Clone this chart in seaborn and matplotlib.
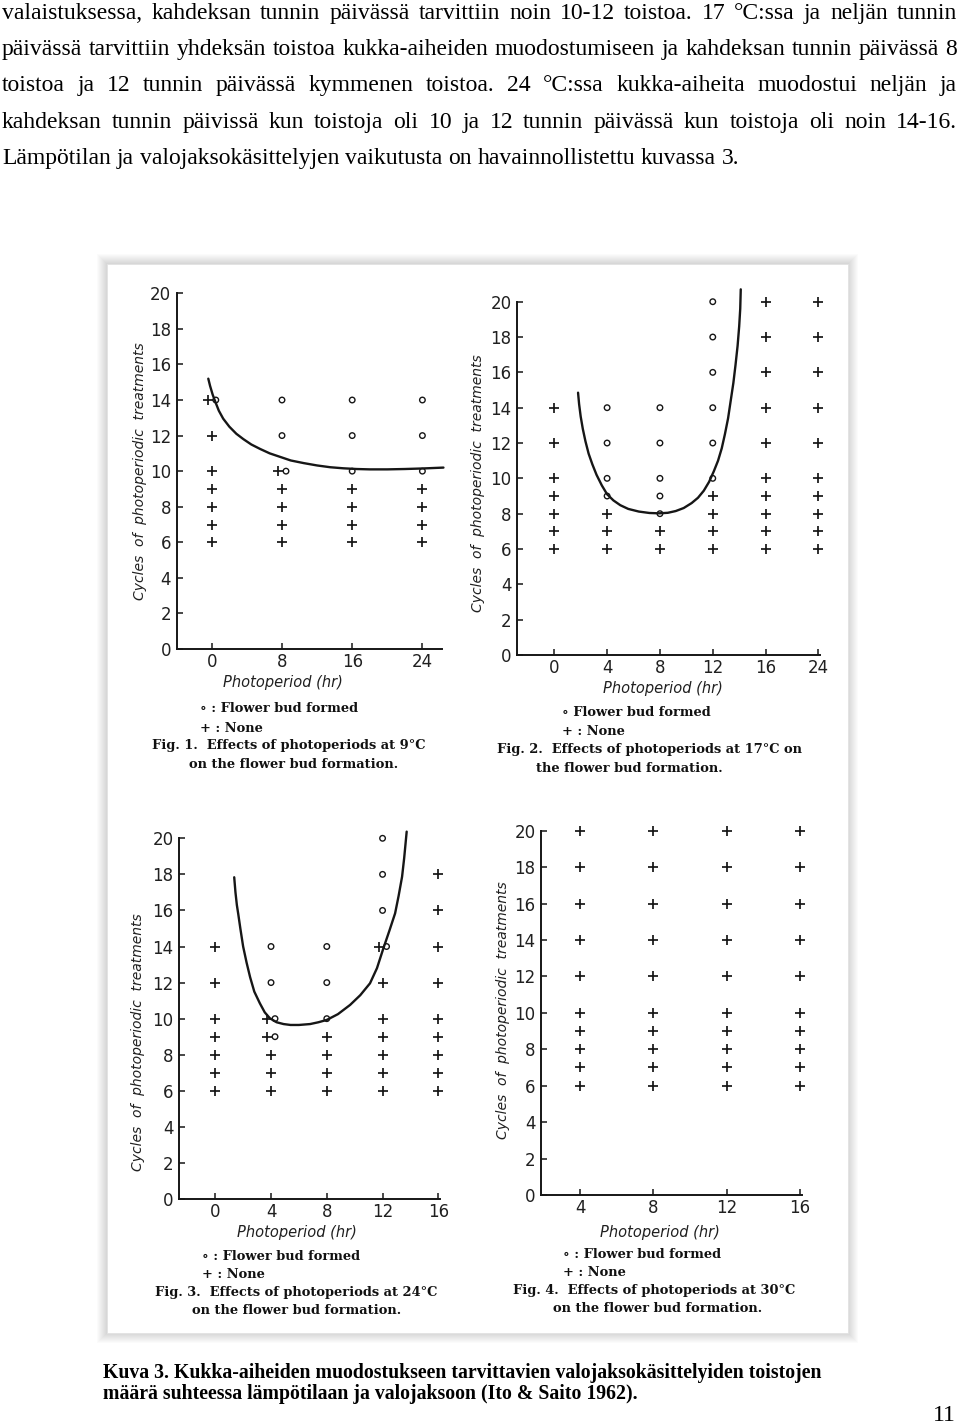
import matplotlib
matplotlib.use("Agg")
import matplotlib.pyplot as plt
import seaborn as sns
import pandas as pd
from matplotlib.patches import Rectangle
from matplotlib.transforms import ScaledTranslation

# ---------------- data ----------------
body_lines = [
    "valaistuksessa, kahdeksan tunnin päivässä tarvittiin noin 10-12 toistoa. 17 °C:ssa ja neljän tunnin",
    "päivässä tarvittiin yhdeksän toistoa kukka-aiheiden muodostumiseen ja kahdeksan tunnin päivässä 8",
    "toistoa ja 12 tunnin päivässä kymmenen toistoa. 24 °C:ssa kukka-aiheita muodostui neljän ja",
    "kahdeksan tunnin päivissä kun toistoja oli 10 ja 12 tunnin päivässä kun toistoja oli noin 14-16.",
    "Lämpötilan ja valojaksokäsittelyjen vaikutusta on havainnollistettu kuvassa 3.",
]
caption_lines = [
    "Kuva 3. Kukka-aiheiden muodostukseen tarvittavien valojaksokäsittelyiden toistojen",
    "määrä suhteessa lämpötilaan ja valojaksoon (Ito & Saito 1962).",
]
page_number = "11"

y_ticks = [0, 2, 4, 6, 8, 10, 12, 14, 16, 18, 20]

# Fig. 1 (9 °C)
fig1_hours = [0, 8, 16, 24]
fig1_none = {0: [6, 7, 8, 9, 10, 12, 14], 8: [6, 7, 8, 9, 10], 16: [6, 7, 8, 9], 24: [6, 7, 8, 9]}
fig1_bud = {0: [14], 8: [10, 12, 14], 16: [10, 12, 14], 24: [10, 12, 14]}
fig1_curve_x = [-0.4, -0.2, 0.1, 0.4, 0.8, 1.3, 2.0, 2.8, 3.6, 4.5, 5.5, 6.6, 7.8, 9.0, 10.5,
                12.0, 13.5, 15.0, 16.5, 18.0, 20.0, 22.0, 24.0, 26.4]
fig1_curve_y = [15.2, 14.8, 14.3, 13.9, 13.4, 12.95, 12.5, 12.1, 11.8, 11.5, 11.25, 11.0, 10.8,
                10.6, 10.45, 10.32, 10.22, 10.16, 10.12, 10.1, 10.1, 10.12, 10.15, 10.2]

# Fig. 2 (17 °C) -- categorical (evenly spaced) photoperiod axis
fig2_hours = [0, 4, 8, 12, 16, 24]
fig2_none = {0: [6, 7, 8, 9, 10, 12, 14], 4: [6, 7, 8], 8: [6, 7], 12: [6, 7, 8, 9],
             16: [6, 7, 8, 9, 10, 12, 14, 16, 18, 20], 24: [6, 7, 8, 9, 10, 12, 14, 16, 18, 20]}
fig2_bud = {4: [9, 10, 12, 14], 8: [8, 9, 10, 12, 14], 12: [10, 12, 14, 16, 18, 20]}
fig2_curve_x = [0.45, 0.47, 0.5, 0.54, 0.59, 0.65, 0.72, 0.8, 0.9, 1.0, 1.12, 1.25, 1.4, 1.6,
                1.8, 1.98, 2.15, 2.3, 2.45, 2.6, 2.72, 2.83, 2.93, 3.02, 3.1, 3.17, 3.23, 3.29,
                3.34, 3.39, 3.43, 3.47, 3.5, 3.52, 3.53]
fig2_curve_y = [14.85, 14.2, 13.5, 12.8, 12.1, 11.4, 10.8, 10.2, 9.6, 9.1, 8.75, 8.48, 8.27, 8.12,
                8.04, 8.02, 8.05, 8.15, 8.32, 8.6, 8.9, 9.3, 9.8, 10.4, 11.0, 11.7, 12.5, 13.4,
                14.4, 15.4, 16.4, 17.5, 18.6, 19.6, 20.7]

# Fig. 3 (24 °C)
fig3_hours = [0, 4, 8, 12, 16]
fig3_none = {0: [6, 7, 8, 9, 10, 12, 14], 4: [6, 7, 8, 9, 10], 8: [6, 7, 8, 9],
             12: [6, 7, 8, 9, 10, 12, 14], 16: [6, 7, 8, 9, 10, 12, 14, 16, 18]}
fig3_bud = {4: [9, 10, 12, 14], 8: [10, 12, 14], 12: [14, 16, 18, 20]}
fig3_curve_x = [1.36, 1.45, 1.55, 1.65, 1.8, 2.0, 2.25, 2.5, 2.8, 3.2, 3.55, 3.92, 4.4, 4.9, 5.4,
                6.0, 6.8, 7.4, 8.0, 8.8, 9.67, 10.4, 11.1, 11.6, 12.06, 12.5, 12.9, 13.15, 13.4,
                13.55, 13.73]
fig3_curve_y = [17.84, 17.0, 16.3, 15.8, 15.0, 14.0, 13.1, 12.3, 11.5, 10.85, 10.35, 10.02, 9.8,
                9.7, 9.65, 9.65, 9.7, 9.8, 9.93, 10.25, 10.76, 11.3, 11.96, 12.8, 13.9, 14.9,
                15.84, 16.8, 17.87, 18.9, 20.37]

# Fig. 4 (30 °C)
fig4_hours = [4, 8, 12, 16]
fig4_none = {4: [6, 7, 8, 9, 10, 12, 14, 16, 18, 20], 8: [6, 7, 8, 9, 10, 12, 14, 16, 18, 20],
             12: [6, 7, 8, 9, 10, 12, 14, 16, 18, 20], 16: [6, 7, 8, 9, 10, 12, 14, 16, 18, 20]}
fig4_bud = {}

fig_titles = [
    ("Fig. 1.  Effects of photoperiods at 9°C", "on the flower bud formation."),
    ("Fig. 2.  Effects of photoperiods at 17°C on", "the flower bud formation."),
    ("Fig. 3.  Effects of photoperiods at 24°C", "on the flower bud formation."),
    ("Fig. 4.  Effects of photoperiods at 30°C", "on the flower bud formation."),
]
legend_bud = ["\u2218 : Flower bud formed", "\u2218 Flower bud formed", "\u2218 : Flower bud formed", "\u2218 : Flower bud formed"]
legend_none = "+ : None"
x_label = "Photoperiod (hr)"
y_label = "Cycles  of  photoperiodic  treatments"

# ---------------- figure ----------------
W, H = 960, 1425
sns.set_theme(style="white")
plt.rcParams["font.family"] = ["DejaVu Sans"]
INK = "#161616"

fig = plt.figure(figsize=(W / 100, H / 100), dpi=100)
fig.patch.set_facecolor("white")


def fx(x):
    return x / W


def fy(y):
    return 1 - y / H


def ftext(x, y, s, **kw):
    return fig.text(fx(x), fy(y), s, **kw)


renderer = fig.canvas.get_renderer()


def measure(s, **kw):
    t = ftext(0, 0, s, **kw)
    w = t.get_window_extent(renderer).width
    t.remove()
    return w


def justified(text, x0, x1, y, justify=True, **kw):
    words = text.split(" ")
    widths = [measure(w, **kw) for w in words]
    spw = measure("a a", **kw) - measure("aa", **kw)
    gap = (x1 - x0 - sum(widths)) / (len(words) - 1) if justify else spw
    x = x0
    for w, wd in zip(words, widths):
        ftext(x, y, w, va="baseline", ha="left", **kw)
        x += wd + gap


body_kw = dict(family=["Liberation Serif", "DejaVu Serif"], fontsize=17, color="black")
baselines = [19, 55, 91, 128, 164, 200]
for i in range(4):
    justified(body_lines[i], 2, 957, baselines[i], **body_kw)
justified(body_lines[4], 2, 957, baselines[4], justify=False, **body_kw)

cap_kw = dict(family=["Liberation Serif", "DejaVu Serif"], fontsize=14.2, color="black", weight="bold")
ftext(103, 1378, caption_lines[0], va="baseline", **cap_kw)
ftext(103, 1399, caption_lines[1], va="baseline", **cap_kw)
ftext(956, 1421, page_number, ha="right", va="baseline",
      family=["Liberation Serif", "DejaVu Serif"], fontsize=17, color="black")

# frame with soft shadow
FL, FT, FR, FB = 107, 264, 848, 1333
for i in range(10, 0, -1):
    fig.patches.append(Rectangle((fx(FL - i), fy(FB + i)), (FR - FL + 2 * i) / W, (FB - FT + 2 * i) / H,
                                 transform=fig.transFigure, facecolor="#000000", alpha=0.016,
                                 edgecolor="none", zorder=-10))
fig.patches.append(Rectangle((fx(FL), fy(FB)), (FR - FL) / W, (FB - FT) / H,
                             transform=fig.transFigure, facecolor="white", edgecolor="#e2e2e2",
                             lw=0.6, zorder=-9))


def points_df(none, bud):
    rows = [(x, y, "none") for x, ys in none.items() for y in ys]
    rows += [(x, y, "bud") for x, ys in bud.items() for y in ys]
    df = pd.DataFrame(rows, columns=["hour", "cycles", "kind"])
    both = {(x, y) for x, ys in none.items() for y in ys} & {(x, y) for x, ys in bud.items() for y in ys}
    df["shift"] = [(-4 if k == "none" else 4) if (h, c) in both else 0
                   for h, c, k in zip(df.hour, df.cycles, df.kind)]
    return df


def panel(rect, hours, none, bud, cx, cy, xlim, categorical=False):
    l, t, r, b = rect
    ax = fig.add_axes([fx(l), fy(b), (r - l) / W, (b - t) / H])
    ax.set_facecolor("none")
    df = points_df(none, bud)
    if categorical:
        df["pos"] = df.hour.map({h: i for i, h in enumerate(hours)})
        ticks = list(range(len(hours)))
    else:
        df["pos"] = df.hour
        ticks = hours
    for (kind, shift), sub in df.groupby(["kind", "shift"]):
        if kind == "none":
            sns.scatterplot(data=sub, x="pos", y="cycles", marker="+", s=42, color=INK,
                            linewidth=1.25, ax=ax, clip_on=False, legend=False, zorder=3)
        else:
            sns.scatterplot(data=sub, x="pos", y="cycles", marker="o", s=16, facecolor="none",
                            edgecolor=INK, linewidth=1.0, ax=ax, clip_on=False, legend=False, zorder=3)
        if shift:
            ax.collections[-1].set_offset_transform(
                ax.transData + ScaledTranslation(shift / 100, 0, fig.dpi_scale_trans))
    if cx:
        sns.lineplot(x=cx, y=cy, sort=False, estimator=None, color=INK, linewidth=1.7,
                     ax=ax, clip_on=False, zorder=4)
    ax.set_xlim(*xlim)
    ax.set_ylim(0, 20)
    ax.set_xticks(ticks)
    ax.set_xticklabels([str(h) for h in hours])
    ax.set_yticks(y_ticks)
    ax.set_yticklabels([str(v) for v in y_ticks])
    ax.set_xlabel("")
    ax.set_ylabel("")
    ax.grid(False)
    sns.despine(ax=ax)
    for s in ("left", "bottom"):
        ax.spines[s].set_color(INK)
        ax.spines[s].set_linewidth(1.4)
    ax.tick_params(bottom=True, left=True, direction="in", length=4, width=1.1, colors=INK,
                   labelsize=12, labelcolor="#202020")
    ax.tick_params(axis="x", pad=3)
    ax.tick_params(axis="y", pad=4)
    return ax


panel((176.7, 293.3, 441.7, 649), fig1_hours, fig1_none, fig1_bud, fig1_curve_x, fig1_curve_y, (-4.0, 26.2))
panel((517.3, 301.7, 820, 655), fig2_hours, fig2_none, fig2_bud, fig2_curve_x, fig2_curve_y, (-0.70, 5.03), categorical=True)
panel((179, 838.3, 440, 1199), fig3_hours, fig3_none, fig3_bud, fig3_curve_x, fig3_curve_y, (-2.6, 16.12))
panel((541, 830.7, 801.7, 1195), fig4_hours, fig4_none, fig4_bud, [], [], (1.87, 16.1))

hand_kw = dict(family=["DejaVu Sans"], style="italic", fontsize=10.5, color="#202020")
xlab_pos = [(282.5, 682), (663, 689), (296.7, 1233), (660, 1232)]
ylab_pos = [(140, 471.5), (478, 483.5), (138, 1042), (503, 1010)]
for (x, y) in xlab_pos:
    ftext(x, y, x_label, ha="center", va="center", **hand_kw)
for (x, y) in ylab_pos:
    ftext(x, y, y_label, ha="center", va="center", rotation=90,
          family=["DejaVu Sans"], style="italic", fontsize=10, color="#202020")

print_kw = dict(family=["DejaVu Serif"], fontsize=9.4, color="#111111", weight="bold")
legend_pos = [(200, 709, 728, 151.7, 746, 189, 764),
              (561.7, 713, 732, 497, 750, 536, 768),
              (201.7, 1256, 1275, 155, 1292.7, 191.7, 1310.7),
              (563.3, 1254, 1273, 513.3, 1290.7, 553.3, 1308.3)]
for i, (lx, y1, y2, fx0, fy1, fx1, fy2) in enumerate(legend_pos):
    ftext(lx, y1, legend_bud[i], ha="left", va="center", **print_kw)
    ftext(lx, y2, legend_none, ha="left", va="center", **print_kw)
    ftext(fx0, fy1, fig_titles[i][0], ha="left", va="center", **print_kw)
    ftext(fx1, fy2, fig_titles[i][1], ha="left", va="center", **print_kw)

fig.savefig("out.png", dpi=100)
